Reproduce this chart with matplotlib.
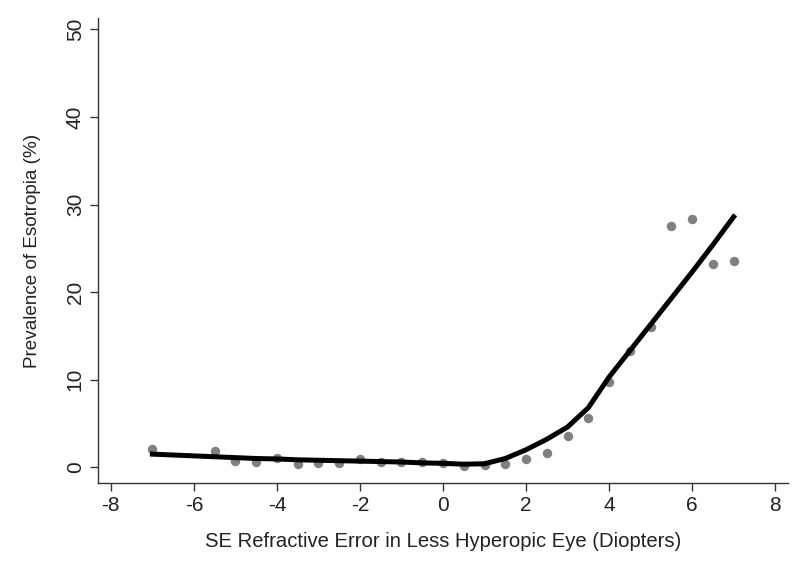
import matplotlib.pyplot as plt

plt.rcParams['font.family'] = ['Liberation Sans', 'DejaVu Sans']
plt.rcParams['axes.unicode_minus'] = False

# observed prevalence by refractive error (0.5 D bins)
obs_x = [-7, -5.5, -5, -4.5, -4, -3.5, -3, -2.5, -2, -1.5, -1, -0.5, 0,
         0.5, 1, 1.5, 2, 2.5, 3, 3.5, 4, 4.5, 5, 5.5, 6, 6.5, 7]
obs_y = [2.1, 1.9, 0.7, 0.6, 1.1, 0.4, 0.5, 0.5, 0.9, 0.6, 0.6, 0.6, 0.5,
         0.2, 0.3, 0.4, 0.9, 1.6, 3.6, 5.6, 9.7, 13.3, 16.0, 27.6, 28.3, 23.2, 23.6]

# smoothed fit
fit_x = [-7, -6.5, -6, -5.5, -5, -4.5, -4, -3.5, -3, -2.5, -2, -1.5, -1,
         -0.5, 0, 0.5, 1, 1.5, 2, 2.5, 3, 3.5, 4, 4.5, 5, 5.5, 6, 6.5, 7]
fit_y = [1.5, 1.4, 1.3, 1.2, 1.1, 1.0, 0.95, 0.85, 0.8, 0.75, 0.7, 0.65, 0.6,
         0.5, 0.45, 0.35, 0.4, 1.0, 2.0, 3.2, 4.6, 6.8, 10.3, 13.3, 16.3,
         19.3, 22.3, 25.4, 28.6]

x_ticks = [-8, -6, -4, -2, 0, 2, 4, 6, 8]
y_ticks = [0, 10, 20, 30, 40, 50]

fig = plt.figure(figsize=(8, 5.74), dpi=100)
ax = fig.add_axes([0.1225, 0.1585, 0.8625, 0.81])

ax.plot(obs_x, obs_y, 'o', color='#808080', markersize=6.8,
        markeredgewidth=0, zorder=2)
ax.plot(fit_x, fit_y, color='black', linewidth=3.6, zorder=3)

ax.set_xlim(-8.31, 8.31)
ax.set_ylim(-1.8, 51.3)
ax.set_xticks(x_ticks)
ax.set_yticks(y_ticks)
ax.set_yticklabels([str(v) for v in y_ticks], rotation=90, va='center')

for side in ['top', 'right']:
    ax.spines[side].set_visible(False)
for side in ['left', 'bottom']:
    ax.spines[side].set_color('#333333')
    ax.spines[side].set_linewidth(1.0)
ax.tick_params(direction='out', length=6, width=1.0, color='#333333',
               labelsize=15, labelcolor='#222222')

ax.set_xlabel('SE Refractive Error in Less Hyperopic Eye (Diopters)',
              fontsize=14.6, color='#222222', labelpad=12)
ax.set_ylabel('Prevalence of Esotropia (%)', fontsize=13.6, color='#222222',
              labelpad=18)

fig.savefig('out.png', dpi=100)
